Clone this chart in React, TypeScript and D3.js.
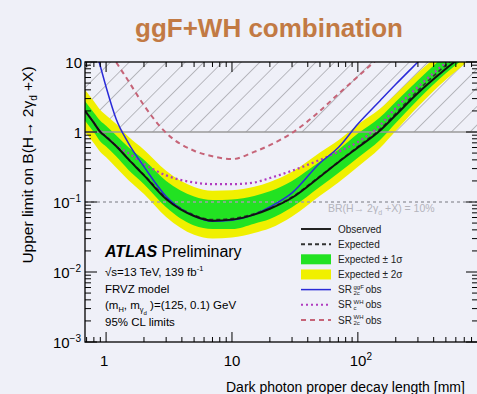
import React from 'react';
import * as d3 from 'd3';

// decay length points [mm] and limits
const decayLength = [0.68, 0.8, 0.9, 1, 1.2, 1.5, 2, 3, 5, 7, 10, 15, 20, 30, 50, 70, 100, 150, 200, 300, 500, 700, 900];
const observed = [2.0, 1.35, 1.0, 0.85, 0.63, 0.41, 0.24, 0.11, 0.063, 0.054, 0.056, 0.066, 0.08, 0.115, 0.23, 0.37, 0.6, 1.05, 1.75, 3.6, 8, 13, 20];
const expected = [2.0, 1.36, 1.01, 0.86, 0.635, 0.415, 0.245, 0.115, 0.065, 0.056, 0.058, 0.068, 0.082, 0.118, 0.235, 0.375, 0.62, 1.1, 1.85, 3.9, 9.0, 14.5, 22];
const exp1Lo = [1.45, 0.99, 0.73, 0.62, 0.45, 0.29, 0.18, 0.084, 0.046, 0.041, 0.041, 0.049, 0.057, 0.084, 0.165, 0.26, 0.43, 0.77, 1.35, 2.9, 6.9, 11.4, 17.4];
const exp1Hi = [2.76, 1.89, 1.45, 1.23, 0.9, 0.61, 0.4, 0.2, 0.12, 0.107, 0.109, 0.122, 0.142, 0.2, 0.38, 0.56, 0.95, 1.62, 2.7, 5.5, 12.6, 19.8, 30];
const exp2Lo = [1.0, 0.69, 0.52, 0.435, 0.31, 0.206, 0.13, 0.061, 0.034, 0.03, 0.031, 0.036, 0.042, 0.062, 0.123, 0.19, 0.32, 0.59, 1.04, 2.3, 5.6, 9.3, 14.6];
const exp2Hi = [4.0, 2.74, 2.06, 1.74, 1.31, 0.86, 0.56, 0.28, 0.164, 0.145, 0.147, 0.165, 0.193, 0.27, 0.51, 0.76, 1.28, 2.14, 3.46, 7.0, 15.4, 24.3, 36];
const srGgf2cObs = [50, 18, 8.7, 4.4, 1.55, 0.7, 0.32, 0.12, 0.063, 0.053, 0.055, 0.066, 0.085, 0.135, 0.36, 0.6, 1.3, 2.8, 4.8, 10, 25, 45, 70];
const srWhCObs = [2.0, 1.37, 1.03, 0.87, 0.64, 0.5, 0.35, 0.24, 0.19, 0.18, 0.18, 0.19, 0.22, 0.28, 0.4, 0.52, 0.72, 1.25, 2.2, 4.4, 9.8, 16, 25];
const srWh2cObs = [60, 35, 24, 17, 10, 5.4, 2.4, 0.97, 0.54, 0.45, 0.41, 0.52, 0.65, 0.97, 2.0, 3.5, 6.2, 12, 20, 40, 90, 150, 220];

const xTickValues = [1, 10, 100];
const xTickBase = ['1', '10', '10'];
const xTickExp = ['', '', '2'];
const yTickValues = [1e-3, 1e-2, 1e-1, 1, 10];
const yTickBase = ['10', '10', '10', '1', '10'];
const yTickExp = ['\u22123', '\u22122', '\u22121', '', ''];

const legendLabels = ['Observed', 'Expected', 'Expected \u00b1 1\u03c3', 'Expected \u00b1 2\u03c3', 'SR', 'SR', 'SR'];
const legendSup = ['', '', '', '', 'ggF', 'WH', 'WH'];
const legendSub = ['', '', '', '', '2c', 'c', '2c'];

const FONT = '"Liberation Sans", Arial, Helvetica, sans-serif';
const BG = '#eff0f8';
const GREEN = '#22e222';
const YELLOW = '#f0f000';
const BLUE = '#2a2ad8';
const MAGENTA = '#b03cc0';
const ROSE = '#c66478';

const isMajor = (v: number) => Math.abs(Math.log10(v) - Math.round(Math.log10(v))) < 1e-6;

export default function App() {
    const width = 477;
    const height = 394;
    const left = 85, right = 478, top = 62, bottom = 342;

    const x = d3.scaleLog().domain([0.68, 900]).range([left, right]);
    const y = d3.scaleLog().domain([1e-3, 10]).range([bottom, top]);

    const line = (vals: number[]) =>
        d3.line<number>()
            .x((_, i) => x(decayLength[i]))
            .y(d => y(d))
            .curve(d3.curveMonotoneX)(vals) || '';
    const band = (lo: number[], hi: number[]) =>
        d3.area<number>()
            .x((_, i) => x(decayLength[i]))
            .y0((_, i) => y(lo[i]))
            .y1((_, i) => y(hi[i]))
            .curve(d3.curveMonotoneX)(lo) || '';

    const xTicks = x.ticks();
    const yTicks = y.ticks();

    // legend layout
    const legX0 = 301, legX1 = 331, legText = 338, legY0 = 229, legStep = 15.15;
    const legendStyle = [
        { kind: 'line', color: '#222', dash: '', w: 2 },
        { kind: 'line', color: '#333', dash: '4,3', w: 2 },
        { kind: 'box', color: GREEN },
        { kind: 'box', color: YELLOW },
        { kind: 'line', color: BLUE, dash: '', w: 1.5 },
        { kind: 'line', color: MAGENTA, dash: '2,3', w: 2 },
        { kind: 'line', color: ROSE, dash: '5,4', w: 2 },
    ];

    return (
        <svg width={width} height={height} style={{ position: 'fixed', left: 0, top: 0, fontFamily: FONT }}>
            <defs>
                <clipPath id="plotClip">
                    <rect x={left} y={top} width={right - left} height={bottom - top} />
                </clipPath>
                <pattern id="hatch" patternUnits="userSpaceOnUse" width={13.2} height={13.2}
                    patternTransform="translate(4,0) rotate(45)">
                    <line x1={0} y1={0} x2={0} y2={13.2} stroke="#9a9aa0" strokeWidth={1.3} />
                </pattern>
            </defs>
            <rect x={0} y={0} width={width} height={height} fill={BG} />

            <text x={269} y={37} textAnchor="middle" fontSize={26} fontWeight="bold" fill="#c27a44">
                ggF+WH combination
            </text>

            <g clipPath="url(#plotClip)">
                {/* excluded region above BR = 1 */}
                <rect x={left} y={y(10)} width={right - left} height={y(1) - y(10)} fill="url(#hatch)" />
                <path d={band(exp2Lo, exp2Hi)} fill={YELLOW} />
                <path d={band(exp1Lo, exp1Hi)} fill={GREEN} />
                <line x1={left} x2={right} y1={y(1)} y2={y(1)} stroke="#9a9a9a" strokeWidth={1.5} />
                <line x1={left} x2={right} y1={y(0.1)} y2={y(0.1)} stroke="#a0a0a8" strokeWidth={1.3} strokeDasharray="3,3" />
                <path d={line(srWh2cObs)} fill="none" stroke={ROSE} strokeWidth={2} strokeDasharray="5,4" />
                <path d={line(srWhCObs)} fill="none" stroke={MAGENTA} strokeWidth={2.2} strokeDasharray="2,3" />
                <path d={line(expected)} fill="none" stroke="#333" strokeWidth={1.6} strokeDasharray="4,3" />
                <path d={line(srGgf2cObs)} fill="none" stroke={BLUE} strokeWidth={1.5} />
                <path d={line(observed)} fill="none" stroke="#111" strokeWidth={2} />
            </g>

            <text x={328} y={212} fontSize={10.5} fill="#b4b4bc">
                BR(H{'\u2192'} 2{'\u03b3'}<tspan fontSize={7} dy={3}>d</tspan><tspan dy={-3}> +X) = 10%</tspan>
            </text>

            {/* frame and ticks */}
            <rect x={left} y={top} width={right - left} height={bottom - top} fill="none" stroke="#000" strokeWidth={1.3} />
            {xTicks.map((v, i) => {
                const len = isMajor(v) ? 10 : 5;
                return (
                    <g key={'xt' + i} stroke="#000" strokeWidth={1}>
                        <line x1={x(v)} x2={x(v)} y1={bottom} y2={bottom - len} />
                        <line x1={x(v)} x2={x(v)} y1={top} y2={top + len} />
                    </g>
                );
            })}
            {yTicks.map((v, i) => {
                const len = isMajor(v) ? 12 : 6;
                return (
                    <g key={'yt' + i} stroke="#000" strokeWidth={1}>
                        <line x1={left} x2={left + len} y1={y(v)} y2={y(v)} />
                        <line x1={right} x2={right - len} y1={y(v)} y2={y(v)} />
                    </g>
                );
            })}

            {yTickValues.map((v, i) => (
                <text key={'yl' + i} x={yTickExp[i] ? 81 : 82} y={y(v) + 5.5} textAnchor="end" fontSize={15}>
                    {yTickBase[i]}
                    {yTickExp[i] && <tspan fontSize={10} dy={-6}>{yTickExp[i]}</tspan>}
                </text>
            ))}
            {xTickValues.map((v, i) => (
                <text key={'xl' + i} x={x(v) + (xTickExp[i] ? 3 : 0) - (i === 0 ? 2 : 0)} y={366} textAnchor="middle" fontSize={15}>
                    {xTickBase[i]}
                    {xTickExp[i] && <tspan fontSize={10} dy={-6}>{xTickExp[i]}</tspan>}
                </text>
            ))}

            <text x={226} y={392} fontSize={14}>Dark photon proper decay length [mm]</text>
            <text transform="translate(33,165) rotate(-90)" textAnchor="middle" fontSize={15.5}>
                Upper limit on B(H{'\u2192'} 2{'\u03b3'}<tspan fontSize={10} dy={4}>d</tspan><tspan dy={-4}> +X)</tspan>
            </text>

            {/* ATLAS label block */}
            <text x={105} y={257} fontSize={16}>
                <tspan fontWeight="bold" fontStyle="italic">ATLAS</tspan> Preliminary
            </text>
            <text x={105} y={276} fontSize={11.5}>
                {'\u221a'}s=13 TeV, 139 fb<tspan fontSize={7.5} dy={-5}>-1</tspan>
            </text>
            <text x={105} y={292.5} fontSize={11.5}>FRVZ model</text>
            <text x={105} y={309} fontSize={11.5}>
                (m<tspan fontSize={7.5} dy={3}>H</tspan><tspan dy={-3}>, m</tspan><tspan fontSize={7.5} dy={3}>{'\u03b3'}</tspan><tspan fontSize={6} dy={3}>d</tspan><tspan dy={-6}> )=(125, 0.1) GeV</tspan>
            </text>
            <text x={105} y={325.5} fontSize={11.5}>95% CL limits</text>

            {/* legend */}
            {legendLabels.map((lab, i) => {
                const cy = legY0 + i * legStep;
                const st = legendStyle[i];
                return (
                    <g key={'lg' + i}>
                        {st.kind === 'box'
                            ? <rect x={legX0} y={cy - 5} width={legX1 - legX0} height={10} fill={st.color} />
                            : <line x1={legX0} x2={legX1} y1={cy} y2={cy} stroke={st.color} strokeWidth={st.w} strokeDasharray={st.dash} />}
                        <text x={legText} y={cy + 3.6} fontSize={10} fill="#222">{lab}</text>
                        {legendSup[i] && (
                            <>
                                <text x={353.5} y={cy - 1} fontSize={6} fill="#222">{legendSup[i]}</text>
                                <text x={353.5} y={cy + 5.5} fontSize={6} fill="#222">{legendSub[i]}</text>
                                <text x={365.5} y={cy + 3.6} fontSize={10} fill="#222">obs</text>
                            </>
                        )}
                    </g>
                );
            })}
        </svg>
    );
}
